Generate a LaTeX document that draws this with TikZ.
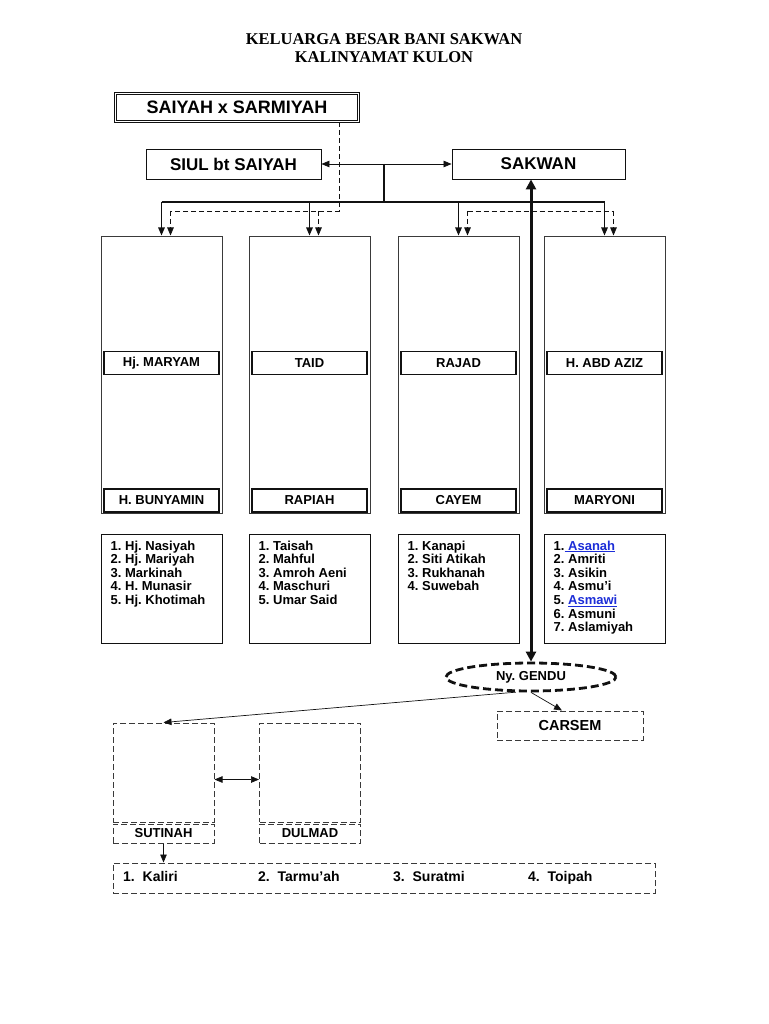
\documentclass[tikz,border=0pt]{standalone}
\usepackage{fontspec}
\setmainfont{Liberation Serif}
\setsansfont{Liberation Sans}
\usepackage{tikz}
\usepackage{xcolor}
\usetikzlibrary{arrows.meta,positioning,shapes.geometric,calc}
\frenchspacing
\definecolor{ink}{HTML}{111111}
\definecolor{inkgray}{HTML}{3A3A3A}
\definecolor{linkblue}{HTML}{1C2DD8}
\tikzset{
  titletext/.style={
    align=center, inner sep=0pt,
    font=\rmfamily\bfseries\fontsize{16.5}{18}\selectfont
  },
  headcard/.style={
    draw=ink, line width=0.6pt, double, double distance=1.3pt,
    minimum width=243pt, minimum height=28pt, inner sep=0pt,
    font=\sffamily\bfseries\fontsize{18}{20}\selectfont
  },
  topcard/.style={
    draw=ink, line width=0.9pt, minimum height=30pt, inner sep=0pt,
    font=\sffamily\bfseries\fontsize{17}{19}\selectfont
  },
  bigcard/.style={
    draw=inkgray, line width=1pt, minimum width=121pt, minimum height=277pt,
    inner sep=0pt
  },
  namecard/.style={
    draw=ink, line width=1.1pt, minimum width=115pt, minimum height=23pt,
    inner sep=0pt, font=\sffamily\bfseries\fontsize{13}{15}\selectfont
  },
  listcard/.style={
    draw=ink, line width=1pt, minimum width=121pt, minimum height=109pt,
    inner sep=0pt
  },
  listtext/.style={
    anchor=north west, align=left, inner sep=0pt,
    font=\sffamily\bfseries\fontsize{13}{13.6}\selectfont
  },
  dashcard/.style={
    draw=inkgray, line width=1pt, dash pattern=on 6pt off 3pt,
    inner sep=0pt, font=\sffamily\bfseries\fontsize{13}{15}\selectfont
  },
  gendububble/.style={
    ellipse, draw=ink, line width=2.8pt, dash pattern=on 8pt off 4pt,
    minimum width=170pt, minimum height=28pt, inner sep=0pt,
    font=\sffamily\bfseries\fontsize{13}{15}\selectfont
  },
  conn/.style={draw=ink, line width=1.3pt},
  dconn/.style={draw=ink, line width=0.8pt, dash pattern=on 5pt off 3pt},
  thinconn/.style={draw=ink, line width=0.7pt},
  bigarrow/.style={draw=ink, line width=3pt,
    {Triangle[length=10pt,width=10pt]}-{Triangle[length=10pt,width=10pt]}}
}

\begin{document}
\begin{tikzpicture}[x=1pt,y=-1pt,>={Triangle[length=8pt,width=6.5pt]}]
  \fill[white] (0,0) rectangle (768,1024);
  \useasboundingbox (0,0) rectangle (768,1024);

  \node[titletext] (title) at (384,48) {KELUARGA BESAR BANI SAKWAN\\KALINYAMAT KULON};

  \node[headcard] (saiyah) at (237,107.5) {SAIYAH x SARMIYAH};
  \node[topcard,minimum width=175pt] (siul) at (233.5,164) {SIUL bt SAIYAH};
  \node[topcard,minimum width=173pt] (sakwan) at (538.5,164) {SAKWAN};
  \draw[thinconn,<->] (siul.east) -- (sakwan.west);

  % the four children of sakwan
  \foreach \i/\cx/\husb/\wife/\kids in {
      0/161.5/{Hj. MARYAM}/{H. BUNYAMIN}/{1. Hj. Nasiyah\\2. Hj. Mariyah\\3. Markinah\\4. H. Munasir\\5. Hj. Khotimah},
      1/309.5/{TAID}/{RAPIAH}/{1. Taisah\\2. Mahful\\3. Amroh Aeni\\4. Maschuri\\5. Umar Said},
      2/458.5/{RAJAD}/{CAYEM}/{1. Kanapi\\2. Siti Atikah\\3. Rukhanah\\4. Suwebah},
      3/604.5/{H. ABD AZIZ}/{MARYONI}/{1.\textcolor{linkblue}{\underline{\ Asanah}}\\2. Amriti\\3. Asikin\\4. Asmu'i\\5. \textcolor{linkblue}{\underline{Asmawi}}\\6. Asmuni\\7. Aslamiyah}} {
    \node[bigcard] (box\i) at (\cx,374.5) {};
    \node[namecard] (husb\i) at (\cx,363) {\husb};
    \node[namecard] (wife\i) at (\cx,500.5) {\wife};
    \node[listcard] (list\i) at (\cx,588.5) {};
    \node[listtext] (kids\i) at ($(list\i.north west)+(10,7)$) {\kids};
    \coordinate (dtop\i) at ($(box\i.north)+(9,0)$);
  }

  % solid bus from the couple
  \coordinate (mid) at (384,164);
  \coordinate (bus) at (384,202);
  \draw[conn] (mid) -- (bus);
  \draw[conn] (box0.north |- bus) -- (box3.north |- bus);
  \foreach \i in {0,...,3} {
    \draw[conn,->] (box\i.north |- bus) -- (box\i.north);
  }

  % dashed line from saiyah
  \coordinate (dbus) at (339,211);
  \draw[dconn] (saiyah.south -| dbus) -- (dbus) -- (dtop0 |- dbus);
  \draw[dconn] (dtop2 |- dbus) -- (dtop3 |- dbus);
  \foreach \i in {0,...,3} {
    \draw[dconn,->] (dtop\i |- dbus) -- (dtop\i);
  }

  % second wife
  \node[gendububble] (gendu) at (531,677) {Ny. GENDU};
  \draw[bigarrow] (gendu.north) -- (gendu.north |- sakwan.south);

  \node[dashcard,minimum width=146pt,minimum height=29pt,font=\sffamily\bfseries\fontsize{14.5}{16}\selectfont] (carsem) at (570,725.5) {CARSEM};
  \node[dashcard,minimum width=101pt,minimum height=99pt] (sutbox) at (163.5,772.5) {};
  \node[dashcard,minimum width=101pt,minimum height=19pt] (sutlab) at (163.5,833.5) {SUTINAH};
  \node[dashcard,minimum width=101pt,minimum height=99pt] (dulbox) at (310,772.5) {};
  \node[dashcard,minimum width=101pt,minimum height=19pt] (dullab) at (310,833.5) {DULMAD};

  \draw[thinconn,->] (gendu.225) -- (sutbox.north);
  \draw[thinconn,->] (gendu.south) -- ($(carsem.north)+(-8,0)$);
  \draw[thinconn,<->] ([yshift=-7pt]sutbox.east) -- ([yshift=-7pt]dulbox.west);

  \node[dashcard,minimum width=542pt,minimum height=30pt] (kidsbox) at (384,878) {};
  \draw[thinconn,->] (sutlab.south) -- (sutlab.south |- kidsbox.north);
  \foreach \j/\kx/\name in {1/123/Kaliri,2/258/Tarmu'ah,3/393/Suratmi,4/528/Toipah} {
    \node[anchor=base west,inner sep=0pt,font=\sffamily\bfseries\fontsize{14}{16}\selectfont] (kid\j) at (\kx,881) {\j.\ \ \name};
  }
\end{tikzpicture}
\end{document}
